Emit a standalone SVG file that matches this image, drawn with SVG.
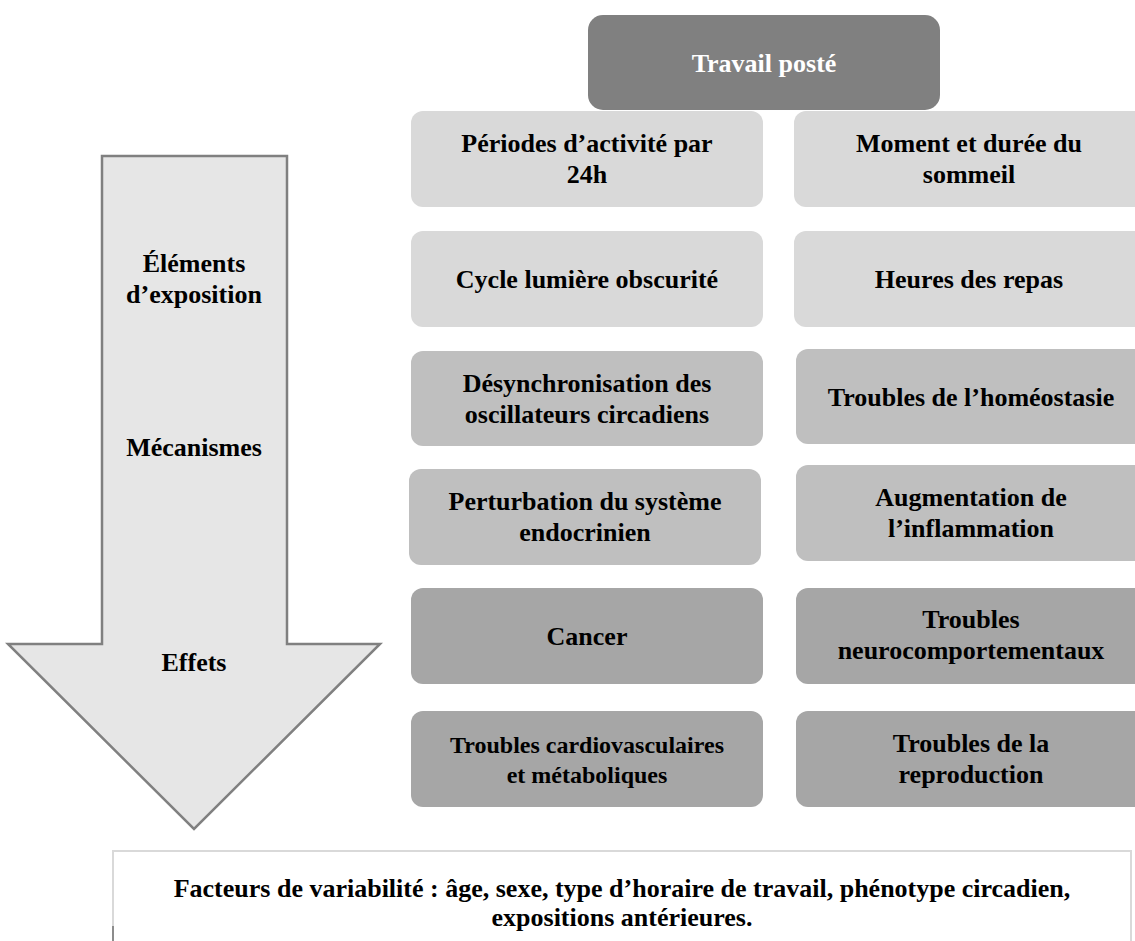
<svg xmlns="http://www.w3.org/2000/svg" width="1135" height="941" viewBox="0 0 1135 941">
<style>
text{font-family:"Liberation Serif","Times New Roman",serif;font-weight:bold;font-size:26px;text-anchor:middle;fill:#000}
.l1{fill:#d9d9d9}
.l2{fill:#bfbfbf}
.l3{fill:#a6a6a6}
.top{fill:#808080}
.w{fill:#fff}
.sm{font-size:24px}
</style>
<rect width="1135" height="941" fill="#fff"/>
<g id="arrow">
<path d="M102,156 H287 V644 H380 L194,829 L8,644 H102 Z" fill="#e6e6e6" stroke="#808080" stroke-width="2.5" stroke-linejoin="miter"/>
<text x="194" y="272">Éléments</text>
<text x="194" y="303">d’exposition</text>
<text x="194" y="456">Mécanismes</text>
<text x="194" y="671">Effets</text>
</g>
<g id="travail-poste">
<rect class="top" x="588" y="15" width="352" height="95" rx="15"/>
<text class="w" x="764" y="72">Travail posté</text>
</g>
<g id="periodes">
<rect class="l1" x="411" y="111" width="352" height="96" rx="12"/>
<text x="587" y="152">Périodes d’activité par</text>
<text x="587" y="183">24h</text>
</g>
<g id="moment-sommeil">
<rect class="l1" x="794" y="111" width="360" height="96" rx="12"/>
<text x="969" y="152">Moment et durée du</text>
<text x="969" y="183">sommeil</text>
</g>
<g id="cycle-lumiere">
<rect class="l1" x="411" y="231" width="352" height="96" rx="12"/>
<text x="587" y="288">Cycle lumière obscurité</text>
</g>
<g id="heures-repas">
<rect class="l1" x="794" y="231" width="360" height="96" rx="12"/>
<text x="969" y="288">Heures des repas</text>
</g>
<g id="desynchronisation">
<rect class="l2" x="411" y="351" width="352" height="95" rx="12"/>
<text x="587" y="392">Désynchronisation des</text>
<text x="587" y="423">oscillateurs circadiens</text>
</g>
<g id="homeostasie">
<rect class="l2" x="796" y="349" width="360" height="95" rx="12"/>
<text x="971" y="406">Troubles de l’homéostasie</text>
</g>
<g id="perturbation">
<rect class="l2" x="409" y="469" width="352" height="96" rx="12"/>
<text x="585" y="510">Perturbation du système</text>
<text x="585" y="541">endocrinien</text>
</g>
<g id="inflammation">
<rect class="l2" x="796" y="465" width="360" height="96" rx="12"/>
<text x="971" y="506">Augmentation de</text>
<text x="971" y="537">l’inflammation</text>
</g>
<g id="cancer">
<rect class="l3" x="411" y="588" width="352" height="96" rx="12"/>
<text x="587" y="645">Cancer</text>
</g>
<g id="neuro">
<rect class="l3" x="796" y="588" width="360" height="96" rx="12"/>
<text x="971" y="628">Troubles</text>
<text x="971" y="659">neurocomportementaux</text>
</g>
<g id="cardio">
<rect class="l3" x="411" y="711" width="352" height="96" rx="12"/>
<text class="sm" x="587" y="753">Troubles cardiovasculaires</text>
<text class="sm" x="587" y="783">et métaboliques</text>
</g>
<g id="reproduction">
<rect class="l3" x="796" y="711" width="360" height="96" rx="12"/>
<text x="971" y="752">Troubles de la</text>
<text x="971" y="783">reproduction</text>
</g>
<g id="facteurs">
<rect x="113" y="851" width="1018" height="110" fill="#fff" stroke="#d9d9d9" stroke-width="2"/>
<line x1="113" y1="926" x2="113" y2="941" stroke="#8c8c8c" stroke-width="2"/>
<text x="622" y="897">Facteurs de variabilité : âge, sexe, type d’horaire de travail, phénotype circadien,</text>
<text x="622" y="926">expositions antérieures.</text>
</g>
<g id="connectors"/>
</svg>
